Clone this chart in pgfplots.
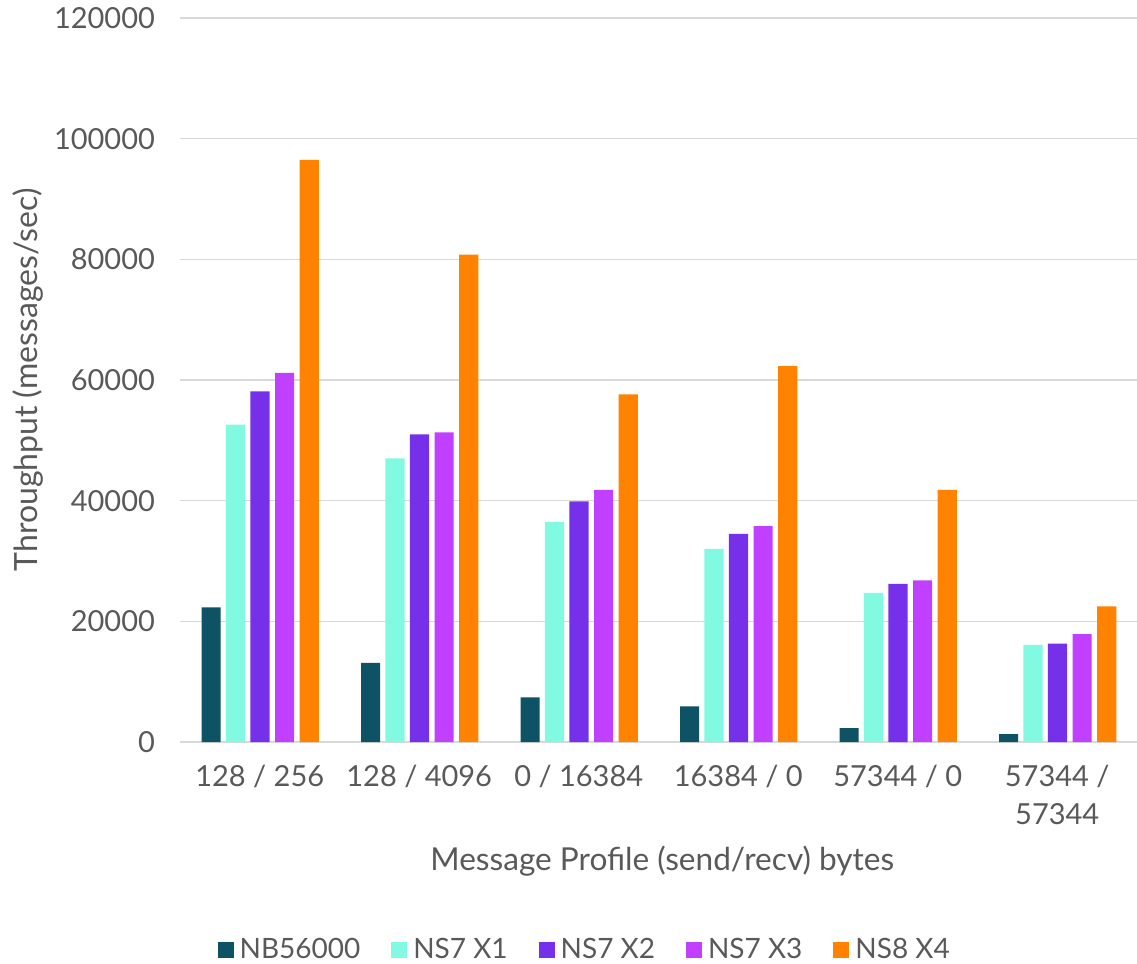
\documentclass[border=0pt]{standalone}
\usepackage{fontspec}
\setmainfont{Lato}
\usepackage{pgfplots}
\pgfplotsset{compat=1.18}
\definecolor{cNB}{HTML}{0D5265}
\definecolor{cX1}{HTML}{82F9E1}
\definecolor{cX2}{HTML}{7630EA}
\definecolor{cX3}{HTML}{C140FF}
\definecolor{cX4}{HTML}{FF8300}
\definecolor{txt}{HTML}{595959}
\begin{document}
\begin{tikzpicture}
\path[use as bounding box] (-90pt,-111pt) rectangle (478.5pt,371pt);
\begin{axis}[
  scale only axis, width=478.5pt, height=362pt,
  xmin=-0.5, xmax=5.5, ymin=0, ymax=120000,
  ybar, bar width=0.12,
  axis lines*=left, axis x line*=bottom,
  y axis line style={draw=none},
  x axis line style={draw=black!15, line width=1.2pt},
  ymajorgrids, grid style={draw=black!15, line width=0.8pt},
  ytick={0,20000,...,120000},
  major tick length=0pt,
  scaled y ticks=false,
  /pgf/number format/assume math mode=true,
  yticklabel={\pgfmathprintnumber[fixed,1000 sep={}]{\tick}},
  yticklabel style={font=\fontsize{14.5}{16}\selectfont, text=txt, xshift=-9pt},
  xtick={0,1,2,3,4,5},
  xticklabels={128 / 256, 128 / 4096, 0 / 16384, 16384 / 0, 57344 / 0, {57344 /\\57344}},
  xticklabel style={font=\fontsize{14.5}{19}\selectfont, text=txt, align=center, anchor=north, yshift=-8pt},
  xlabel={Message Profile (send/recv) bytes},
  xlabel style={font=\fontsize{15.8}{17}\selectfont, text=txt, at={(axis description cs:0.504,-0.164)}, anchor=center},
  ylabel={Throughput (messages/sec)},
  ylabel style={font=\fontsize{16}{17}\selectfont, text=txt, at={(axis description cs:-0.159,0.5)}, anchor=center},
  legend columns=5,
  legend style={draw=none, fill=none, font=\fontsize{14}{15}\selectfont, text=txt,
    at={(axis description cs:0.424,-0.287)}, anchor=center,
    /tikz/every even column/.append style={column sep=13.5pt},
    /tikz/every odd column/.append style={column sep=1pt}},
  legend image code/.code={\fill[#1] (0pt,-4pt) rectangle (8pt,4pt);},
]
\addplot[fill=cNB, draw=none, bar shift=-0.305] coordinates {(0,22300) (1,13100) (2,7400) (3,5900) (4,2300) (5,1300)};
\addplot[fill=cX1, draw=none, bar shift=-0.152] coordinates {(0,52600) (1,47000) (2,36500) (3,32000) (4,24700) (5,16100)};
\addplot[fill=cX2, draw=none, bar shift=0.002] coordinates {(0,58100) (1,51000) (2,39900) (3,34500) (4,26200) (5,16300)};
\addplot[fill=cX3, draw=none, bar shift=0.156] coordinates {(0,61200) (1,51300) (2,41800) (3,35800) (4,26800) (5,17900)};
\addplot[fill=cX4, draw=none, bar shift=0.31] coordinates {(0,96500) (1,80800) (2,57600) (3,62300) (4,41800) (5,22500)};
\legend{NB56000, NS7 X1, NS7 X2, NS7 X3, NS8 X4}
\end{axis}
\end{tikzpicture}
\end{document}
